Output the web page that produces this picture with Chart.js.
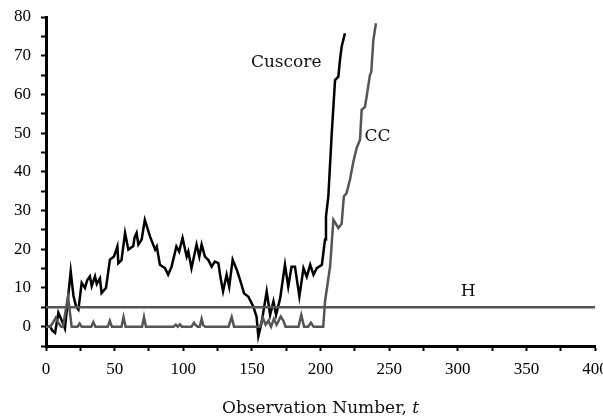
<!DOCTYPE html>
<html>
<head>
<meta charset="utf-8">
<script src="https://cdn.jsdelivr.net/npm/chart.js@4/dist/chart.umd.min.js"></script>
<style>
  body { margin: 0; background: #fff; }
  #wrap { width: 603px; height: 418px; position: relative; }
</style>
</head>
<body>
<div id="wrap"><canvas id="chart"></canvas></div>
<script>
// values
const cuscoreT = [0, 2.9, 4.5, 6.6, 9, 11, 13.8, 18, 20, 21.9, 23.6, 26, 28.4, 30, 32, 33.3, 35.7, 37, 39.3, 40.5,
  43.7, 46.6, 49.5, 52, 52.7, 55, 57.6, 60, 63.6, 64.5, 66, 67.3, 69.7, 72, 75.9, 79.5, 80.7, 83, 86.7, 89,
  91.5, 95, 97, 99.5, 102.5, 103.7, 106, 109.7, 111.7, 113.4, 115.8, 118.3, 120.7, 123, 125.6, 127, 129, 131.6, 133.5, 136,
  139, 141.4, 144.3, 147.5, 151, 153.4, 154.7, 157, 160.8, 163.3, 165.7, 167.6, 170.6, 174.1, 176.5, 178.9, 181.4, 184.6, 187.6, 190,
  192.5, 194.9, 197.3, 201, 203.3, 204, 205.7, 208.2, 210.6, 213, 214.2, 215.4, 217.8];
const cuscoreV = [0, 0.1, -1, -1.6, 3.6, 2, -0.5, 14.3, 8, 5.2, 4.4, 11.3, 10, 12, 13, 10.5, 13, 11, 12.5, 8.7,
  10, 17.3, 18.1, 20.7, 16.4, 17.2, 24.2, 19.9, 20.8, 23, 24.2, 21.2, 22.5, 27.6, 23.2, 19.9, 20.7, 16, 15.1, 13.4,
  15.5, 20.7, 19.4, 22.9, 18.1, 19.4, 15.1, 21.2, 18.1, 21.2, 18.1, 17.2, 15.5, 16.8, 16.4, 13, 9.1, 13.4, 10.3, 17.3,
  14.7, 12.1, 8.6, 7.7, 5.2, 2.6, -2.5, 0.9, 9.1, 3, 6.5, 3, 7.3, 16, 10.3, 15.5, 15.5, 7.8, 15.1, 12.9,
  16, 13.4, 15.1, 16, 22.5, 28.5, 33.6, 50, 63.7, 64.6, 68.9, 72.3, 75.8];

const ccT = [0, 3, 5, 7, 9, 11, 12.4, 16, 18.7, 23, 24.5, 26, 33, 34.5, 36, 45, 46.5, 48, 55, 56.5,
  58, 70, 71.4, 72.8, 93, 94.5, 96, 97.6, 99, 106, 107.8, 109, 110.5, 112, 113.4, 114.5, 116, 133, 135.3, 137,
  152, 156, 158, 160, 162, 164, 166, 168, 171, 173, 174.5, 184, 186, 188, 191, 193, 195, 202, 203.3, 207,
  209.4, 213, 215.4, 217, 219, 221.5, 224, 226.4, 228.8, 230, 232.4, 233.6, 236, 237, 238.5, 240.4];
const ccV = [0, 0, 1, 2.3, 1, 0, 0, 7.8, 0, 0, 0.8, 0, 0, 1.2, 0, 0, 1.5, 0, 0, 2.5,
  0, 0, 2.5, 0, 0, 0.5, 0, 0.6, 0, 0, 1, 0.4, 0, 0, 2, 0.4, 0, 0, 2.5, 0,
  0, 0, 2.3, 0.5, 1.5, 0, 2, 0.5, 2.6, 1.5, 0, 0, 3, 0, 0, 1, 0, 0, 6.5, 15.6,
  27.6, 25.5, 26.6, 33.6, 34.5, 38, 42.7, 46.2, 48.3, 56, 56.8, 59.4, 65, 65.8, 74, 78.4];

const hT = [0, 400];
const hV = [5, 5];

const xTicksMin = 0, xTicksMax = 400, xStep = 25;
const yTicksMin = -5, yTicksMax = 80, yStep = 5;

const serif = '"Liberation Serif", "Times New Roman", serif';
const textSerif = '"DejaVu Serif", serif';

function pts(ts, vs) { return ts.map((t, i) => ({ x: t, y: vs[i] })); }

const labelsPlugin = {
  id: 'labels',
  afterDraw(chart) {
    const ctx = chart.ctx, x = chart.scales.x, y = chart.scales.y;
    ctx.save();
    ctx.fillStyle = '#111';
    ctx.textAlign = 'center';
    ctx.textBaseline = 'middle';
    ctx.font = '17px ' + textSerif;
    ctx.fillText('Cuscore', x.getPixelForValue(175), y.getPixelForValue(68.2));
    ctx.fillText('CC', x.getPixelForValue(241.5), y.getPixelForValue(49.2));
    ctx.fillText('H', x.getPixelForValue(307.5), y.getPixelForValue(9));

    // axis title, with italic t
    const a = 'Observation Number, ';
    const b = 't';
    ctx.font = '17px ' + textSerif;
    const wa = ctx.measureText(a).width;
    ctx.font = 'italic 17px ' + textSerif;
    const wb = ctx.measureText(b).width;
    const cx = (chart.chartArea.left + chart.chartArea.right) / 2;
    const start = cx - (wa + wb) / 2;
    ctx.textAlign = 'left';
    ctx.font = '17px ' + textSerif;
    ctx.fillText(a, start, 409);
    ctx.font = 'italic 17px ' + textSerif;
    ctx.fillText(b, start + wa, 409);
    ctx.restore();
  }
};

new Chart(document.getElementById('chart'), {
  type: 'scatter',
  data: {
    datasets: [
      { label: 'H', data: pts(hT, hV), showLine: true, borderColor: '#555', borderWidth: 2.5, pointRadius: 0 },
      { label: 'CC', data: pts(ccT, ccV), showLine: true, borderColor: '#555', borderWidth: 2.5, pointRadius: 0 },
      { label: 'Cuscore', data: pts(cuscoreT, cuscoreV), showLine: true, borderColor: '#000', borderWidth: 2.5, pointRadius: 0 }
    ]
  },
  options: {
    responsive: true,
    maintainAspectRatio: false,
    animation: false,
    layout: { padding: { left: 0, right: 8, top: 17, bottom: 0 } },
    plugins: { legend: { display: false }, tooltip: { enabled: false } },
    scales: {
      x: {
        type: 'linear', min: xTicksMin, max: xTicksMax,
        ticks: {
          stepSize: xStep, autoSkip: false, maxRotation: 0, padding: 8,
          color: '#000', font: { family: serif, size: 17 },
          callback: v => (v % 50 === 0 ? v : '')
        },
        grid: { drawOnChartArea: false, tickLength: 5, tickColor: '#000', tickWidth: 2 },
        border: { color: '#000', width: 3 },
        afterFit: s => { s.height = 72; s.paddingLeft = 0; s.paddingRight = 0; }
      },
      y: {
        min: yTicksMin, max: yTicksMax,
        ticks: {
          stepSize: yStep, autoSkip: false, padding: 10,
          color: '#000', font: { family: serif, size: 17 },
          callback: v => (v % 10 === 0 ? v : '')
        },
        grid: { drawOnChartArea: false, tickLength: 5, tickColor: '#000', tickWidth: 2 },
        border: { color: '#000', width: 3 },
        afterFit: s => { s.width = 46; s.paddingTop = 0; s.paddingBottom = 0; }
      }
    }
  },
  plugins: [labelsPlugin]
});
</script>
</body>
</html>
